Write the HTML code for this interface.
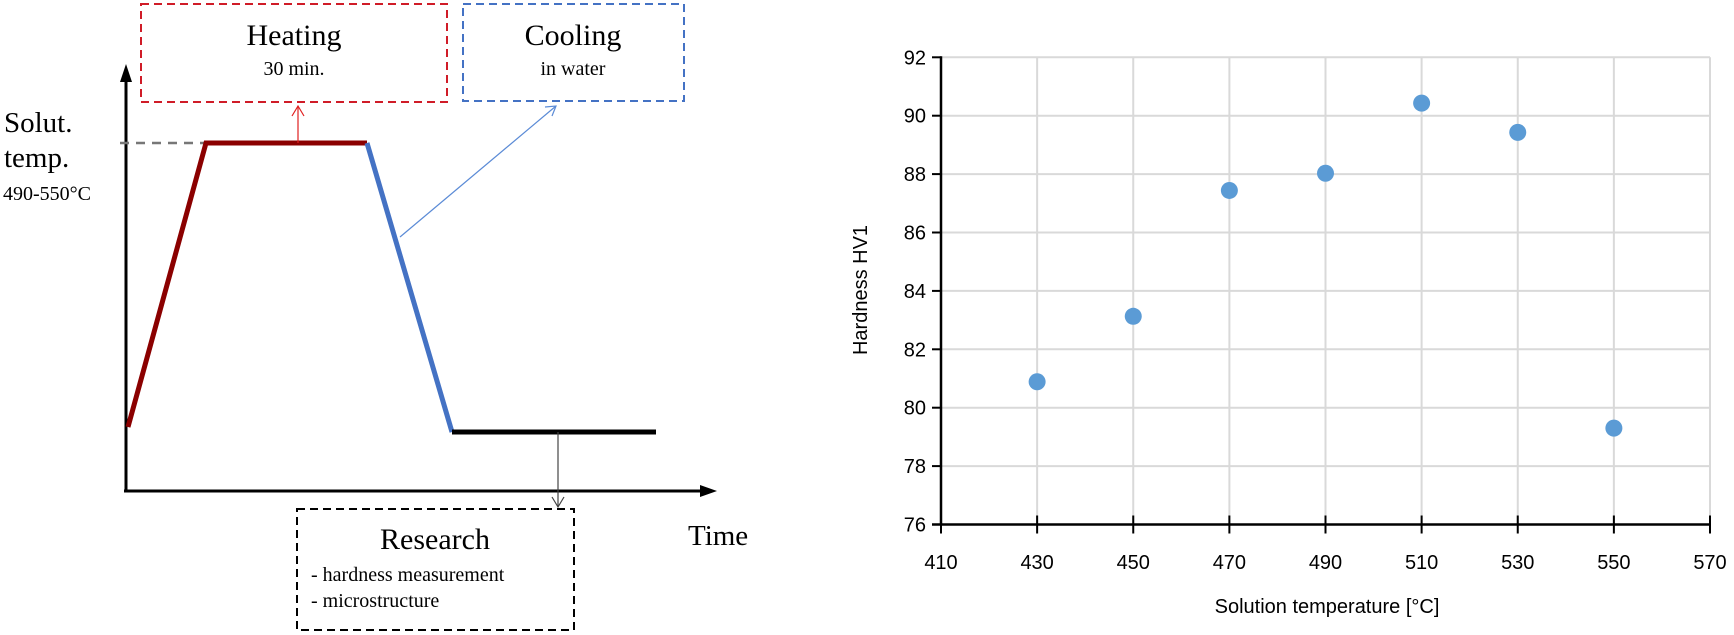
<!DOCTYPE html>
<html><head><meta charset="utf-8"><style>
html,body{margin:0;padding:0;background:#fff;}
svg{display:block;}
.serif{font-family:"Liberation Serif",serif;fill:#000;}
.sans{font-family:"Liberation Sans",sans-serif;fill:#000;}
</style></head><body>
<svg id="fig" width="1734" height="635" viewBox="0 0 1734 635" xmlns="http://www.w3.org/2000/svg">
<defs>
<marker id="ahBlack" markerWidth="10" markerHeight="10" refX="8" refY="5" orient="auto" markerUnits="userSpaceOnUse"><path d="M0,0 L10,5 L0,10 z" fill="#000"/></marker>
</defs>
<g>
  <line x1="126" y1="491" x2="126" y2="82" stroke="#000" stroke-width="3"/>
  <path d="M120,82 L126,64 L132,82 z" fill="#000"/>
  <line x1="124" y1="491" x2="702" y2="491" stroke="#000" stroke-width="3"/>
  <path d="M700,485 L717,491 L700,497 z" fill="#000"/>
  <line x1="120" y1="143" x2="204" y2="143" stroke="#777" stroke-width="2.5" stroke-dasharray="9,7"/>
  <polyline points="128,427 206,143 367,143" fill="none" stroke="#8b0000" stroke-width="5"/>
  <line x1="367" y1="143" x2="452" y2="432" stroke="#4472c4" stroke-width="5"/>
  <line x1="452" y1="432" x2="656" y2="432" stroke="#000" stroke-width="5"/>
  <line x1="298" y1="143" x2="298" y2="106" stroke="#e02020" stroke-width="1.2"/>
  <polyline points="292,116 298,106 304,116" fill="none" stroke="#e02020" stroke-width="1.2"/>
  <line x1="400" y1="237" x2="556" y2="106" stroke="#5b8bd6" stroke-width="1.2"/>
  <polyline points="545,107 556,106 552,116" fill="none" stroke="#5b8bd6" stroke-width="1.2"/>
  <line x1="558" y1="432" x2="558" y2="507" stroke="#444" stroke-width="1.2"/>
  <polyline points="552,497 558,507 564,497" fill="none" stroke="#444" stroke-width="1.2"/>
  <rect x="141" y="4" width="306" height="98" fill="none" stroke="#d01c28" stroke-width="2" stroke-dasharray="8,5"/>
  <text x="294" y="45" text-anchor="middle" class="serif" font-size="30">Heating</text>
  <text x="294" y="75" text-anchor="middle" class="serif" font-size="20">30 min.</text>
  <rect x="463" y="4" width="221" height="97" fill="none" stroke="#4472c4" stroke-width="2" stroke-dasharray="8,5"/>
  <text x="573" y="45" text-anchor="middle" class="serif" font-size="30">Cooling</text>
  <text x="573" y="75" text-anchor="middle" class="serif" font-size="20">in water</text>
  <rect x="297" y="509" width="277" height="121" fill="none" stroke="#000" stroke-width="2" stroke-dasharray="8,5"/>
  <text x="435" y="549" text-anchor="middle" class="serif" font-size="30">Research</text>
  <text x="311" y="581" class="serif" font-size="20">- hardness measurement</text>
  <text x="311" y="607" class="serif" font-size="20">- microstructure</text>
  <text x="4" y="132" class="serif" font-size="29">Solut.</text>
  <text x="4" y="167" class="serif" font-size="29">temp.</text>
  <text x="3" y="200" class="serif" font-size="20">490-550°C</text>
  <text x="688" y="545" class="serif" font-size="29">Time</text>
</g>
<g id="chart"></g>
</svg>
<script>
const categories = [430, 450, 470, 490, 510, 530, 550];
const hardness = [80.89, 83.13, 87.44, 88.03, 90.43, 89.43, 79.30];
const xTicks = [410, 430, 450, 470, 490, 510, 530, 550, 570];
const yTicks = [76, 78, 80, 82, 84, 86, 88, 90, 92];

const NS = 'http://www.w3.org/2000/svg';
const g = document.getElementById('chart');
const X0 = 941, X1 = 1710, Y0 = 524.5, Y1 = 57.3;
const xMin = 410, xMax = 570, yMin = 76, yMax = 92;
function sx(v){ return X0 + (v - xMin) / (xMax - xMin) * (X1 - X0); }
function sy(v){ return Y0 - (v - yMin) / (yMax - yMin) * (Y0 - Y1); }
function mk(tag, attrs, parent){
  const e = document.createElementNS(NS, tag);
  for (const k in attrs) e.setAttribute(k, attrs[k]);
  (parent || g).appendChild(e);
  return e;
}
yTicks.forEach(t => {
  const l = mk('line', {x1: X0, x2: X1, y1: sy(t), y2: sy(t), stroke: '#d9d9d9', 'stroke-width': 2});
  
  
  const tk = mk('line', {x1: X0 - 9, x2: X0, y1: sy(t), y2: sy(t), stroke: '#000', 'stroke-width': 2});
  
  
  const tx = mk('text', {x: X0 - 15, y: sy(t) + 7, 'text-anchor': 'end', class: 'sans', 'font-size': 20});
  tx.textContent = t;
  
  
});
xTicks.forEach(t => {
  if (t !== xMin) {
    const l = mk('line', {x1: sx(t), x2: sx(t), y1: Y1, y2: Y0, stroke: '#d9d9d9', 'stroke-width': 2});
    
    
  }
  const tk = mk('line', {x1: sx(t), x2: sx(t), y1: Y0 - 9, y2: Y0 + 9, stroke: '#000', 'stroke-width': 2});
  
  
  const tx = mk('text', {x: sx(t), y: 569, 'text-anchor': 'middle', class: 'sans', 'font-size': 20});
  tx.textContent = t;
  
  
});
const ya = mk('line', {x1: X0, x2: X0, y1: Y1 - 1, y2: Y0 + 1, stroke: '#000', 'stroke-width': 2.5});


const xa = mk('line', {x1: X0 - 9, x2: X1, y1: Y0, y2: Y0, stroke: '#000', 'stroke-width': 2.5});


categories.forEach((c, i) => {
  const p = mk('circle', {cx: sx(c), cy: sy(hardness[i]), r: 8.5, fill: '#5b9bd5'});
  
  
});
const yt = mk('text', {x: 0, y: 0, 'text-anchor': 'middle', class: 'sans', 'font-size': 20, transform: 'translate(867,290) rotate(-90)'});
yt.textContent = 'Hardness HV1';


const xt = mk('text', {x: 1327, y: 613, 'text-anchor': 'middle', class: 'sans', 'font-size': 20});
xt.textContent = 'Solution temperature [°C]';


</script>
</body></html>
